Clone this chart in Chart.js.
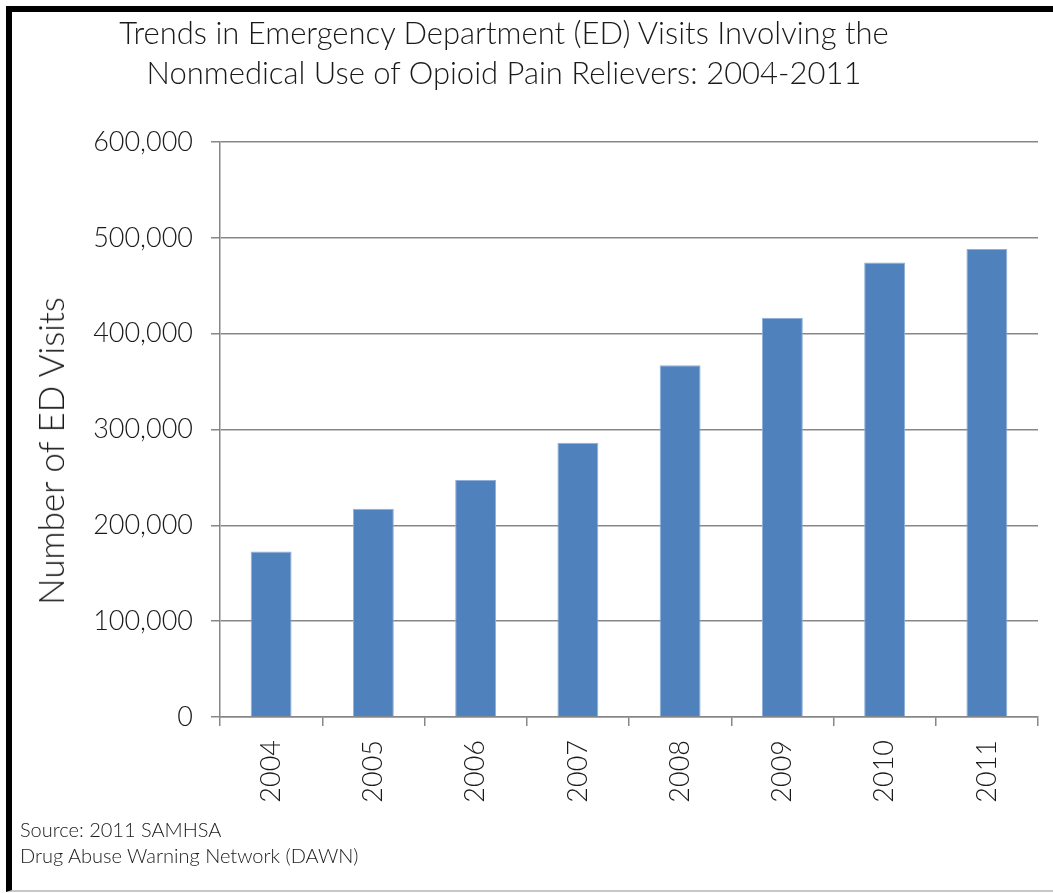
<!DOCTYPE html>
<html lang="en">
<head>
    <meta charset="UTF-8">
    <title>Trends in ED Visits Involving Nonmedical Use of Opioid Pain Relievers</title>
    <style>
        body {
            margin: 0;
            background: #fff;
            font-family: Lato, "Open Sans", sans-serif;
            font-weight: 300;
            color: #1a1a1a;
        }
        #wrap {
            position: relative;
            width: 1053px;
            height: 893px;
            overflow: hidden;
        }
        /* black frame, top and left edges only, the rest is cut off */
        #frame {
            position: absolute;
            left: 6px;
            top: 6px;
            width: 1100px;
            height: 878px;
            border-top: 6px solid #000;
            border-left: 6px solid #000;
            border-bottom: 2px solid #c8c8c8;
        }
        #chart {
            position: absolute;
            left: 0;
            top: 0;
        }
        #title {
            position: absolute;
            left: 0;
            top: 12px;
            width: 1008px;
            text-align: center;
            font-size: 31px;
            line-height: 40px;
        }
        /* y axis title, rotated; Excel centres it a bit below the plot middle */
        #ytitle {
            position: absolute;
            left: 50px;
            top: 451px;
            transform: translate(-50%, -50%) rotate(-90deg);
            white-space: nowrap;
            font-size: 35px;
            line-height: 40px;
        }
        #source {
            position: absolute;
            left: 20px;
            top: 816px;
            font-size: 20px;
            line-height: 26px;
        }
    </style>
    <script src="https://cdn.jsdelivr.net/npm/chart.js"></script>
</head>
<body>
<div id="wrap">
    <div id="frame"></div>
    <canvas id="chart" width="1053" height="893"></canvas>
    <div id="title">Trends in Emergency Department (ED) Visits Involving the<br>Nonmedical Use of Opioid Pain Relievers: 2004-2011</div>
    <div id="ytitle">Number of ED Visits</div>
    <div id="source">Source: 2011 SAMHSA<br>Drug Abuse Warning Network (DAWN)</div>
</div>

<script>
    // values
    const years = ['2004', '2005', '2006', '2007', '2008', '2009', '2010', '2011'];
    const edVisits = [172800, 217300, 247200, 286200, 367100, 416500, 474300, 488300];
    const yTicks = [0, 100000, 200000, 300000, 400000, 500000, 600000];

    const gridColor = '#878787';
    const textColor = '#1a1a1a';

    const ctx = document.getElementById('chart').getContext('2d');
    const chart = new Chart(ctx, {
        type: 'bar',
        data: {
            labels: years,
            datasets: [{
                label: 'ED Visits',
                data: edVisits,
                backgroundColor: '#4f81bd',
                borderColor: '#8fb0d8',
                borderWidth: 1,
                categoryPercentage: 1,
                barPercentage: 0.4
            }]
        },
        options: {
            responsive: false,
            animation: false,
            layout: {
                padding: { top: 142, right: 15, left: 0, bottom: 0 }
            },
            plugins: {
                legend: { display: false },
                tooltip: { enabled: false }
            },
            scales: {
                x: {
                    grid: {
                        drawOnChartArea: false,
                        color: gridColor,
                        lineWidth: 1.5,
                        tickLength: 9
                    },
                    border: { color: gridColor, width: 1.5 },
                    ticks: {
                        color: textColor,
                        font: { family: 'Lato', size: 27, weight: 300 },
                        minRotation: 90,
                        maxRotation: 90,
                        padding: 14
                    },
                    afterFit: scale => { scale.height = 176; }
                },
                y: {
                    min: 0,
                    max: 600000,
                    afterBuildTicks: scale => {
                        scale.ticks = yTicks.map(v => ({ value: v }));
                    },
                    grid: {
                        color: gridColor,
                        lineWidth: 1.5,
                        tickLength: 9
                    },
                    border: { color: gridColor, width: 1.5 },
                    ticks: {
                        color: textColor,
                        font: { family: 'Lato', size: 27, weight: 300 },
                        padding: 18,
                        callback: v => v.toLocaleString('en-US')
                    },
                    afterFit: scale => { scale.width = 220; }
                }
            }
        }
    });
</script>
</body>
</html>
